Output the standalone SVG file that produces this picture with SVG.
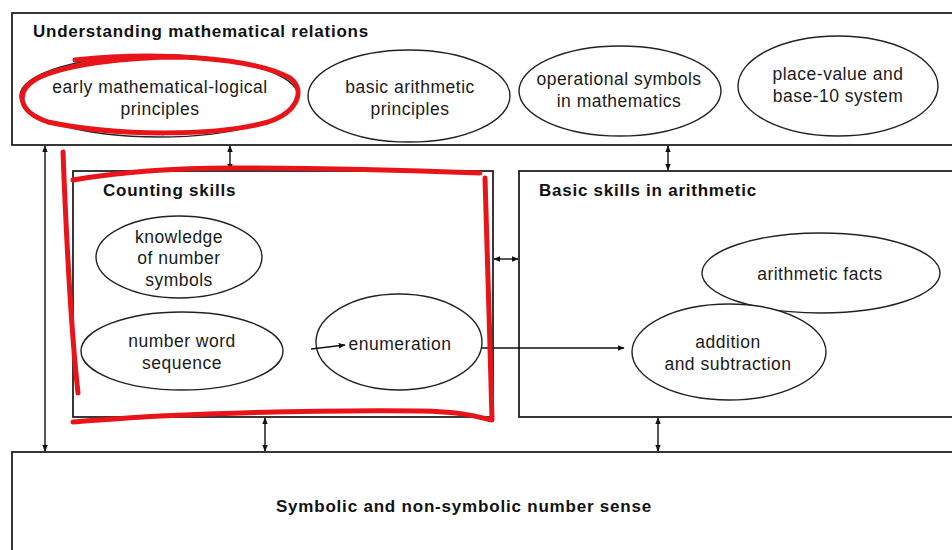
<svg xmlns="http://www.w3.org/2000/svg" width="952" height="550" viewBox="0 0 952 550">
<defs>
<marker id="ah" viewBox="0 0 10 10" refX="9" refY="5" markerWidth="7" markerHeight="7" markerUnits="userSpaceOnUse" orient="auto-start-reverse">
<path d="M0,1 L10,5 L0,9 z" fill="#111"/>
</marker>
<style>
.box{fill:#fff;stroke:#222;stroke-width:1.8}
.ell{fill:#fff;stroke:#222;stroke-width:1.4}
.t{font-family:"Liberation Sans",Arial,sans-serif;font-size:17.5px;letter-spacing:0.5px;fill:#1a1a1a;text-anchor:middle}
.h{font-family:"Liberation Sans",Arial,sans-serif;font-size:17px;letter-spacing:0.75px;font-weight:bold;fill:#111}
.c{fill:none;stroke:#111;stroke-width:1.4}
.red{fill:none;stroke:#e8141a;stroke-width:5;stroke-linecap:round;stroke-linejoin:round}
</style>
</defs>
<rect width="952" height="550" fill="#fff"/>

<g id="understanding">
<rect class="box" x="12" y="13" width="960" height="132"/>
<text class="h" x="33" y="37">Understanding mathematical relations</text>
</g>
<g id="early-principles">
<ellipse class="ell" cx="159" cy="96" rx="139" ry="41"/>
<text class="t" x="160" y="93">early mathematical-logical</text>
<text class="t" x="160" y="115">principles</text>
</g>
<g id="basic-arith-principles">
<ellipse class="ell" cx="409" cy="96" rx="101" ry="46"/>
<text class="t" x="410" y="93">basic arithmetic</text>
<text class="t" x="410" y="115">principles</text>
</g>
<g id="operational-symbols">
<ellipse class="ell" cx="620" cy="91" rx="101" ry="45"/>
<text class="t" x="619" y="85">operational symbols</text>
<text class="t" x="619" y="107">in mathematics</text>
</g>
<g id="place-value">
<ellipse class="ell" cx="838" cy="86" rx="100" ry="50"/>
<text class="t" x="838" y="80">place-value and</text>
<text class="t" x="838" y="102">base-10 system</text>
</g>

<g id="counting-skills">
<rect class="box" x="73" y="171" width="420" height="246"/>
<text class="h" x="103" y="196">Counting skills</text>
</g>
<g id="knowledge-symbols">
<ellipse class="ell" cx="179" cy="257" rx="83" ry="41"/>
<text class="t" x="179" y="243">knowledge</text>
<text class="t" x="179" y="264">of number</text>
<text class="t" x="179" y="286">symbols</text>
</g>
<g id="number-word-sequence">
<ellipse class="ell" cx="182" cy="351" rx="101" ry="39"/>
<text class="t" x="182" y="347">number word</text>
<text class="t" x="182" y="369">sequence</text>
</g>
<g id="enumeration">
<ellipse class="ell" cx="399" cy="342" rx="83" ry="48"/>
<text class="t" x="400" y="350">enumeration</text>
</g>

<g id="basic-skills">
<rect class="box" x="519" y="171" width="460" height="246"/>
<text class="h" x="539" y="196">Basic skills in arithmetic</text>
</g>
<g id="arithmetic-facts">
<ellipse class="ell" cx="821" cy="273" rx="119" ry="40"/>
<text class="t" x="820" y="280">arithmetic facts</text>
</g>
<g id="addition-subtraction">
<ellipse class="ell" cx="729" cy="352" rx="97" ry="48"/>
<text class="t" x="728" y="348">addition</text>
<text class="t" x="728" y="370">and subtraction</text>
</g>

<g id="number-sense">
<rect class="box" x="12" y="452" width="960" height="120"/>
<text class="h" x="464" y="512" text-anchor="middle" style="letter-spacing:0.8px">Symbolic and non-symbolic number sense</text>
</g>

<g id="connectors">
<line class="c" x1="45" y1="146" x2="45" y2="451" marker-start="url(#ah)" marker-end="url(#ah)"/>
<line class="c" x1="230" y1="146" x2="230" y2="170" marker-start="url(#ah)" marker-end="url(#ah)"/>
<line class="c" x1="668" y1="146" x2="668" y2="170" marker-start="url(#ah)" marker-end="url(#ah)"/>
<line class="c" x1="494" y1="259" x2="518" y2="259" marker-start="url(#ah)" marker-end="url(#ah)"/>
<line class="c" x1="265" y1="418" x2="265" y2="451" marker-start="url(#ah)" marker-end="url(#ah)"/>
<line class="c" x1="658" y1="418" x2="658" y2="451" marker-start="url(#ah)" marker-end="url(#ah)"/>
<line class="c" x1="311" y1="349" x2="345" y2="345" marker-end="url(#ah)"/>
<line class="c" x1="482" y1="348" x2="624" y2="348" marker-end="url(#ah)"/>
</g>

<g id="annotations">
<path class="red" d="M75,60 C150,52 250,56 290,78 C306,90 298,112 268,122 C218,136 118,137 48,122 C16,111 16,91 36,79 C62,65 122,57 182,57"/>
<path class="red" d="M63,152 C66,230 70,320 78,393"/>
<path class="red" d="M73,180 C120,172 180,168 231,168 C320,168 400,170 480,173"/>
<path class="red" d="M485,178 C487,250 490,340 492,420 C480,418 470,412 420,411 C330,410 250,412 160,416 C120,418 90,421 73,422"/>
</g>
</svg>
